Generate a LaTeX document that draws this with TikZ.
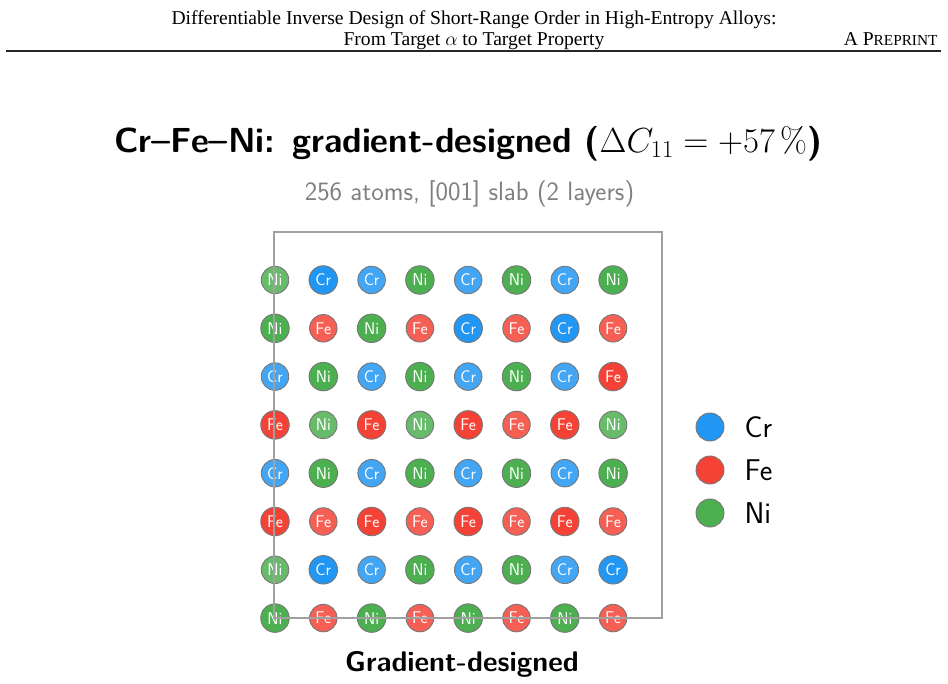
\documentclass[tikz,border=0pt]{standalone}
\usepackage{fix-cm}
\usepackage{fontspec}
\newfontfamily\hdr{Liberation Serif}
\definecolor{Cr}{HTML}{2196F3}
\definecolor{Fe}{HTML}{F44336}
\definecolor{Ni}{HTML}{4CAF50}
\definecolor{boxc}{HTML}{A0A0A0}
\definecolor{edgec}{HTML}{777777}
\definecolor{subc}{HTML}{808080}
\tikzset{
  atom/.style={circle, draw=edgec, line width=0.9pt, inner sep=0pt, text=white,
    font=\fontsize{17}{17}\selectfont\sffamily},
  legatom/.style={circle, draw=edgec, line width=0.9pt, inner sep=0pt, minimum size=28pt},
  legtext/.style={anchor=west, font=\fontsize{30}{30}\selectfont\sffamily},
  hdrtext/.style={anchor=base, font=\fontsize{19.6}{19.6}\selectfont\hdr},
  framebox/.style={draw=boxc, line width=1.5pt},
}
\begin{document}
\begin{tikzpicture}[x=1pt,y=-1pt]
\useasboundingbox (0,0) rectangle (948,684);
% header
\node[hdrtext] (h1) at (474,24.5) {Differentiable Inverse Design of Short-Range Order in High-Entropy Alloys:};
\node[hdrtext] (h2) at (474,45.5) {From Target $\alpha$ to Target Property};
\node[hdrtext, anchor=base east] (h3) at (941,45.5) {A P{\fontsize{15.3}{15.3}\selectfont REPRINT}};
\coordinate (r1) at (6,51);
\coordinate (r2) at (941,51);
\draw[line width=1.2pt, black!85] (r1) -- (r2);
% title
\node[anchor=base, font=\fontsize{34.8}{34.8}\selectfont\sffamily\bfseries] (title) at (468.5,152.5)
  {Cr--Fe--Ni: gradient-designed ($\Delta C_{11} = +57\,\%$)};
\node[anchor=base, text=subc, font=\fontsize{26.5}{26.5}\selectfont\sffamily] (sub) at (469.5,201)
  {256 atoms, [001] slab (2 layers)};
% atoms
\foreach \row [count=\r] in {
  {Ni,Cr,Cr,Ni,Cr,Ni,Cr,Ni},
  {Ni,Fe,Ni,Fe,Cr,Fe,Cr,Fe},
  {Cr,Ni,Cr,Ni,Cr,Ni,Cr,Fe},
  {Fe,Ni,Fe,Ni,Fe,Fe,Fe,Ni},
  {Cr,Ni,Cr,Ni,Cr,Ni,Cr,Ni},
  {Fe,Fe,Fe,Fe,Fe,Fe,Fe,Fe},
  {Ni,Cr,Cr,Ni,Cr,Ni,Cr,Cr},
  {Ni,Fe,Ni,Fe,Ni,Fe,Ni,Fe}} {
  \foreach \e [count=\c] in \row {
    \pgfmathtruncatemacro\pp{mod(\r+\c,2)}
    \ifnum\pp=0
      \node[atom, fill=\e!85!white, minimum size=27.5pt] (a\r-\c) at ({275+48.3*(\c-1)},{280+48.3*(\r-1)}) {\e};
    \else
      \node[atom, fill=\e, minimum size=28.5pt] (a\r-\c) at ({275+48.3*(\c-1)},{280+48.3*(\r-1)}) {\e};
    \fi
  }
}
% frame
\coordinate (f1) at (274,232);
\coordinate (f2) at (662,618);
\draw[framebox] (f1) rectangle (f2);
% legend
\node[legatom, fill=Cr] (lcr) at (710,427) {};
\node[legatom, fill=Fe] (lfe) at (710,470) {};
\node[legatom, fill=Ni] (lni) at (710,513) {};
\node[legtext] (tcr) at (741,427) {Cr};
\node[legtext] (tfe) at (741,470) {Fe};
\node[legtext] (tni) at (741,513) {Ni};
% bottom label
\node[anchor=base, font=\fontsize{28.4}{28.4}\selectfont\sffamily\bfseries] (lab) at (462,671) {Gradient-designed};
\end{tikzpicture}
\end{document}
